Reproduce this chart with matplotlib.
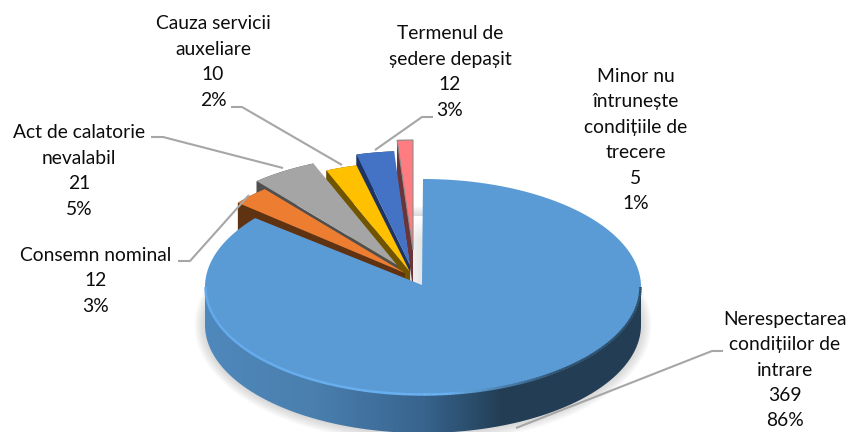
import numpy as np
import matplotlib
matplotlib.use("Agg")
import matplotlib.pyplot as plt
from matplotlib.colors import LinearSegmentedColormap
from matplotlib.collections import LineCollection
from matplotlib.patches import Polygon

categories = ["Nerespectarea\ncondițiilor de\nintrare", "Consemn nominal",
              "Act de calatorie\nnevalabil", "Cauza servicii\nauxeliare",
              "Termenul de\nședere depașit", "Minor nu\nîntrunește\ncondițiile de\ntrecere"]
values = [369, 12, 21, 10, 12, 5]
percents = ["86%", "3%", "5%", "2%", "3%", "1%"]
top_colors = ["#5B9BD5", "#ED7D31", "#A5A5A5", "#FFC000", "#4472C4", "#FF7C80"]
wall_colors = ["#223D54", "#5F3211", "#4F4F4F", "#705400", "#1D3360", "#6B3537"]

W, H = 851, 432
plt.rcParams["font.family"] = ["Lato", "DejaVu Sans"]
fig = plt.figure(figsize=(W / 100, H / 100), dpi=100)
ax = fig.add_axes([0, 0, 1, 1])
ax.set_xlim(0, W)
ax.set_ylim(H, 0)
ax.axis("off")

CX, CY, RX, RY, DEPTH = 423, 287, 218, 108, 38
# per-slice centre and radii (perspective + explosion)
apex = [(CX, CY), (405, 273), (397, 265), (410, 272), (410, 265), (413, 250)]
rx_ry = [(RX, RY), (217, 110), (217, 110), (217, 110), (217, 114), (217, 110)]

total = sum(values)
edges = np.cumsum([0] + values) / total * 2 * np.pi  # clockwise from 12 o'clock


def arc(i, n=120):
    t = np.linspace(edges[i], edges[i + 1], n)
    rx, ry = rx_ry[i]
    return apex[i][0] + rx * np.sin(t), apex[i][1] - ry * np.cos(t)


# soft shadow under the main pie
for k in range(8, 0, -1):
    t = np.linspace(0, 2 * np.pi, 200)
    ax.fill(CX + (RX + k * 1.3) * np.sin(t), CY + DEPTH + (RY + k * 1.3) * np.cos(t),
            color="#7f7f7f", alpha=0.04, lw=0, zorder=1)

# light strip in the gap of the main slice, fading towards the top
gap = np.clip(np.linspace(0, 1, 70) * 3, 0, 1)[:, None] * np.linspace(0.6, 1, 12)[None, :]
ax.imshow(1 - 0.11 * gap, cmap="gray", vmin=0, vmax=1, extent=(412, 424, 286, 216),
          aspect="auto", zorder=1.2, interpolation="bilinear")
ax.set_xlim(0, W)
ax.set_ylim(H, 0)

# small slices, back to front
z = 2
for i in [5, 4, 3, 2, 1]:
    x, y = arc(i)
    ax_, ay_ = apex[i]
    ax.fill([x[0], x[0], ax_, ax_], [y[0], y[0] + DEPTH, ay_ + DEPTH, ay_],
            color=wall_colors[i], lw=0, zorder=z)
    ax.fill(np.r_[x, x[::-1]], np.r_[y, y[::-1] + DEPTH], color=wall_colors[i], lw=0, zorder=z)
    ec = "#8c8c8c" if i == 5 else "none"
    ax.fill(np.r_[ax_, x], np.r_[ay_, y], facecolor=top_colors[i], edgecolor=ec,
            lw=0.8 if i == 5 else 0, zorder=z + 0.5)
    z += 1

# main slice: outer wall with a horizontal gradient, clipped to the wall outline
wall_cmap = LinearSegmentedColormap.from_list(
    "wall", [(0, "#4F88BC"), (0.25, "#4A7FAE"), (0.5, "#38648E"), (0.62, "#2A4C69"),
             (0.68, "#233E55"), (1, "#223D54")])
t = np.linspace(np.pi / 2, 3 * np.pi / 2, 300)
xs = CX + RX * np.sin(t)
ys = CY - RY * np.cos(t)
outline = Polygon(np.c_[np.r_[xs, xs[::-1]], np.r_[ys, ys[::-1] + DEPTH]], transform=ax.transData,
                  fc="none", ec="none")
ax.add_patch(outline)
im = ax.imshow(np.linspace(0, 1, 436)[None, :], cmap=wall_cmap, vmin=0, vmax=1,
               extent=(CX - RX, CX + RX, H + 10, CY - 5), aspect="auto", zorder=10)
im.set_clip_path(outline)
ax.set_xlim(0, W)
ax.set_ylim(H, 0)

# main slice: top face (its tip sits slightly above the ellipse centre)
x, y = arc(0, n=500)
ax.fill(np.r_[CX - 1, x], np.r_[CY - 2, y], color=top_colors[0], lw=0, zorder=11)

# bevel on the lower rim: light on the left, dark on the right
t = np.linspace(np.pi / 2, 3 * np.pi / 2, 200)[::-1]
bx = CX + (RX - 0.5) * np.sin(t)
by = CY - (RY - 0.5) * np.cos(t)
segs = [[(bx[k], by[k]), (bx[k + 1], by[k + 1])] for k in range(len(t) - 1)]
bevel = LinearSegmentedColormap.from_list(
    "bevel", [(0, "#65ACEE"), (0.55, "#6BB2F2"), (0.66, "#4F86B6"), (0.8, "#2F526F"), (1, "#2A4A64")])
bcols = [bevel((s[0][0] - (CX - RX)) / (2 * RX)) for s in segs]
ax.add_collection(LineCollection(segs, colors=bcols, linewidths=1.8, zorder=12))

# leader lines
LEADER = "#A6A6A6"
leaders = [
    [(231, 107), (242, 107), (342, 165)],
    [(151, 137), (163, 137), (283, 168)],
    [(433, 117), (422, 117), (375, 150)],
    [(178, 261), (190, 261), (249, 195)],
    [(723, 351), (712, 351), (516, 428)],
]
for pts in leaders:
    ax.plot(*zip(*pts), color=LEADER, lw=1.5, zorder=13, solid_capstyle="butt")

# data labels
label_pos = [(785, 370), (96, 281), (79, 171), (213, 62), (450, 72), (636, 140)]
for name, v, p, (lx, ly) in zip(categories, values, percents, label_pos):
    ax.text(lx, ly, f"{name}\n{v}\n{p}", ha="center", va="center", fontsize=13.9,
            color="#0d0d0d", linespacing=1.6, zorder=14)

fig.savefig("out.png", dpi=100)
